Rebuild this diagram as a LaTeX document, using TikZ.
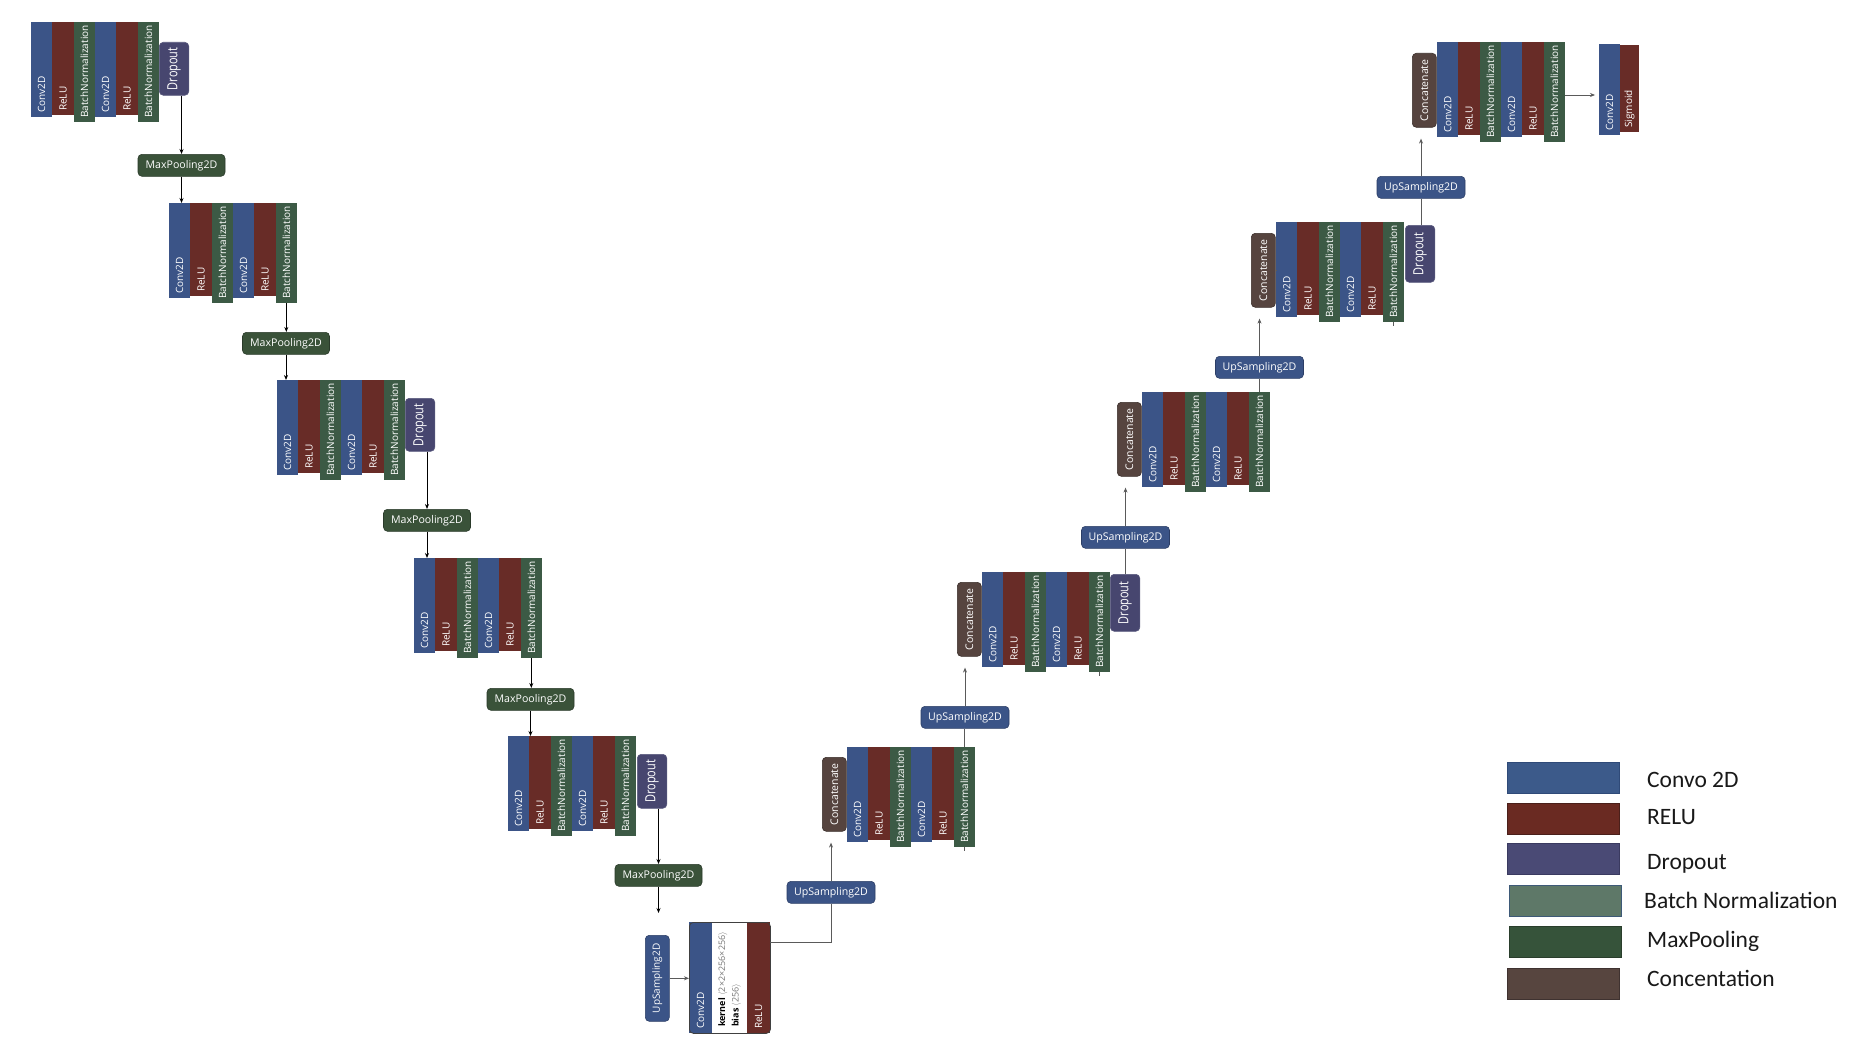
\documentclass[tikz,border=0pt]{standalone}
\usepackage{fontspec}
\usepackage{graphicx}
\newfontfamily\dfont{Open Sans}
\newfontfamily\lfont{Carlito}
\usetikzlibrary{arrows.meta}
\definecolor{convblue}{HTML}{3B5487}
\definecolor{relured}{HTML}{682C27}
\definecolor{bngreen}{HTML}{3C5A45}
\definecolor{dropc}{HTML}{47466F}
\definecolor{dropedge}{HTML}{5A5A7E}
\definecolor{catc}{HTML}{56443F}
\definecolor{catedge}{HTML}{3A2E2A}
\definecolor{mpgreen}{HTML}{3A5239}
\definecolor{mpedge}{HTML}{2A3A2A}
\definecolor{upblue}{HTML}{3B5487}
\definecolor{upedge}{HTML}{2C3E66}
\definecolor{linegray}{HTML}{5A5A5A}
\definecolor{kgray}{HTML}{777777}
\definecolor{frameedge}{HTML}{404040}
\definecolor{lgconv}{HTML}{3C5A8A}
\definecolor{lgconvE}{HTML}{2F4A78}
\definecolor{lgrelu}{HTML}{6A2A22}
\definecolor{lgreluE}{HTML}{4A1F1A}
\definecolor{lgdrop}{HTML}{4A4A75}
\definecolor{lgdropE}{HTML}{3A3A60}
\definecolor{lgbn}{HTML}{5E7868}
\definecolor{lgbnE}{HTML}{3E5A78}
\definecolor{lgmp}{HTML}{36533A}
\definecolor{lgmpE}{HTML}{2A3E2C}
\definecolor{lgcat}{HTML}{57453F}
\definecolor{lgcatE}{HTML}{3F3230}
\newcommand\droptxt{\scalebox{0.78}[1]{Dropout}}
\tikzset{
 col/.style={anchor=north west, inner sep=0pt, outer sep=0pt, minimum width=21.33pt},
 coltext/.style={rotate=90, anchor=west, inner xsep=4pt, inner ysep=0pt, text=white, font=\dfont\fontsize{10}{10}\selectfont},
 rottext/.style={rotate=90, anchor=center, inner sep=0pt, text=white, font=\dfont\fontsize{10.5}{11}\selectfont},
 convcol/.style={col, fill=convblue, minimum height=95pt, label={[coltext]south:#1}},
 convcol/.default=Conv2D,
 relucol/.style={col, fill=relured, minimum height=93pt, label={[coltext]south:#1}},
 relucol/.default=ReLU,
 bncol/.style={col, fill=bngreen, minimum height=100pt, label={[coltext]south:BatchNormalization}},
 dropbox/.style={anchor=north west, fill=dropc, draw=dropedge, line width=0.6pt, rounded corners=4pt, minimum width=29.5pt, minimum height=#1, inner sep=0pt, label={[droptext]center:\droptxt}},
 droptext/.style={rotate=90, anchor=center, inner sep=0pt, text=white, font=\dfont\fontsize{14}{14}\selectfont},
 catbox/.style={anchor=north west, fill=catc, draw=catedge, line width=0.6pt, rounded corners=4pt, minimum width=24pt, minimum height=74pt, inner sep=0pt, label={[rottext]center:Concatenate}},
 mpbox/.style={anchor=north, fill=mpgreen, draw=mpedge, line width=0.6pt, rounded corners=4pt, minimum width=87pt, minimum height=22pt, inner sep=0pt, text=white, font=\dfont\fontsize{10.6}{11}\selectfont},
 upbox/.style={mpbox, fill=upblue, draw=upedge, minimum width=88pt},
 arr/.style={-{Stealth[length=5pt,width=4pt]}, line width=0.9pt, black},
 gline/.style={line width=0.9pt, linegray},
 garr/.style={gline, -{Stealth[length=5pt,width=4pt]}},
 legrect/.style={anchor=north west, minimum width=112pt, minimum height=31pt, inner sep=0pt, line width=1pt},
 legtext/.style={anchor=base west, inner sep=0pt, font=\lfont\fontsize{23.5}{24}\selectfont, text=black!90},
}
\newcommand\ublk[3]{%
  \node[convcol] (#1a) at (#2,#3) {};
  \node[relucol] (#1b) at (#1a.north east) {};
  \node[bncol] (#1c) at (#1b.north east) {};
  \node[convcol] (#1d) at (#1c.north east) {};
  \node[relucol] (#1e) at (#1d.north east) {};
  \node[bncol] (#1f) at (#1e.north east) {};
}
\begin{document}
\begin{tikzpicture}[x=1pt,y=-1pt]
\fill[white] (0,0) rectangle (1862,1062);
\useasboundingbox (0,0) rectangle (1862,1062);

% ---------------- encoder ----------------
\ublk{e1}{31}{22}
\node[dropbox=53pt] (e1d) at (159,42) {};
\node[mpbox] (mp1) at (181.5,154) {MaxPooling2D};
\ublk{e2}{169}{203}
\node[mpbox] (mp2) at (286,332) {MaxPooling2D};
\ublk{e3}{277}{380}
\node[dropbox=53pt] (e3d) at (405,398) {};
\node[mpbox] (mp3) at (427,509) {MaxPooling2D};
\ublk{e4}{414}{558}
\node[mpbox] (mp4) at (530.5,688) {MaxPooling2D};
\ublk{e5}{508}{736}
\node[dropbox=54pt] (e5d) at (637,754) {};
\node[mpbox] (mp5) at (658.5,864) {MaxPooling2D};
\coordinate (mp5end) at (658.5,913);

% ---------------- bottleneck ----------------
\node[anchor=north west, fill=upblue, draw=upedge, line width=0.6pt, rounded corners=4pt, minimum width=24pt, minimum height=86pt, inner sep=0pt,
  label={[rottext, font=\dfont\fontsize{10}{10}\selectfont]center:UpSampling2D}] (ub) at (645,935) {};
\node[convcol, minimum width=23pt, minimum height=111pt] (bc1) at (689,922) {};
\node[col, fill=white, minimum width=35pt, minimum height=111pt] (bc2) at (bc1.north east) {};
\node[relucol, minimum width=23pt, minimum height=111pt] (bc3) at (bc2.north east) {};
\node[anchor=north west, draw=frameedge, line width=0.8pt, rounded corners=4pt, minimum width=81pt, minimum height=111pt, inner sep=0pt] (bn) at (689,922) {};
\node[rotate=90, anchor=west, align=left, inner sep=0pt, font=\dfont\fontsize{9}{13.5}\selectfont] (bnk) at (729.5,1027)
  {\textbf{kernel} {\color{kgray}$\langle$2×2×256×256$\rangle$}\\\textbf{bias} {\color{kgray}$\langle$256$\rangle$}};

% ---------------- decoder ----------------
\node[upbox] (u1) at (831,881) {UpSampling2D};
\node[catbox] (d1cat) at (822,757) {};
\ublk{d1}{847}{747}
\node[upbox] (u2) at (965,706) {UpSampling2D};
\node[catbox] (d2cat) at (957,582) {};
\ublk{d2}{982}{572}
\node[dropbox=57pt] (d2d) at (1110,574) {};
\node[upbox] (u3) at (1125.5,526) {UpSampling2D};
\node[catbox] (d3cat) at (1117,402) {};
\ublk{d3}{1142}{392}
\node[upbox] (u4) at (1259.5,356) {UpSampling2D};
\node[catbox] (d4cat) at (1251,233) {};
\ublk{d4}{1276}{222}
\node[dropbox=57pt] (d4d) at (1405,225) {};
\node[upbox] (u5) at (1421,176) {UpSampling2D};
\node[catbox] (d5cat) at (1412,53) {};
\ublk{d5}{1437}{42}
\node[convcol, minimum width=21pt, minimum height=91pt] (fo1) at (1599,44) {};
\node[relucol=Sigmoid, minimum width=19pt, minimum height=87pt] (fo2) at (1620,45) {};

% ---------------- encoder connectors ----------------
\draw[arr] (mp1.north |- e1d.south) -- (mp1.north);
\draw[arr] (mp1.south) -- (mp1.south |- e2a.north);
\draw[arr] (e2f.south) -- (e2f.south |- mp2.north);
\draw[arr] (mp2.south) -- (mp2.south |- e3a.north);
\draw[arr] (mp3.north |- e3d.south) -- (mp3.north);
\draw[arr] (mp3.south) -- (mp3.south |- e4a.north);
\draw[arr] (e4f.south) -- (e4f.south |- mp4.north);
\draw[arr] (mp4.south) -- (mp4.south |- e5a.north);
\draw[arr] (mp5.north |- e5d.south) -- (mp5.north);
\draw[arr] (mp5.south) -- (mp5end);

% ---------------- decoder connectors ----------------
\draw[garr] (ub.east) -- (ub.east -| bc1.west);
\draw[gline] ([yshift=-20pt]bc3.north east) -| (u1.south);
\draw[garr, shorten >=11pt] (u1.north) -- (u1.north |- d1cat.south);
\draw[gline] (d1cat.east) -- (d1cat.east -| d1a.west);
\draw[gline] (d1f.north) -- (d1f.north |- u2.south);
\draw[gline] (d1f.south) -- ++(0,4);
\draw[garr, shorten >=11pt] (u2.north) -- (u2.north |- d2cat.south);
\draw[gline] (d2cat.east) -- (d2cat.east -| d2a.west);
\draw[gline] (d2d.north -| u3.south) -- (u3.south);
\draw[gline] (d2f.south) -- ++(0,4);
\draw[garr, shorten >=11pt] (u3.north) -- (u3.north |- d3cat.south);
\draw[gline] (d3cat.east) -- (d3cat.east -| d3a.west);
\draw[gline] (d3f.north) -- (d3f.north |- u4.south);
\draw[garr, shorten >=11pt] (u4.north) -- (u4.north |- d4cat.south);
\draw[gline] (d4cat.east) -- (d4cat.east -| d4a.west);
\draw[gline] (d4d.north -| u5.south) -- (u5.south);
\draw[gline] (d4f.south) -- ++(0,4);
\draw[garr, shorten >=11pt] (u5.north) -- (u5.north |- d5cat.south);
\draw[gline] (d5cat.east) -- (d5cat.east -| d5a.west);
\draw[garr, shorten >=4pt] ([yshift=-53pt]d5f.north east) -- ([yshift=-53pt]d5f.north east -| fo1.west);

% ---------------- legend ----------------
\node[legrect, fill=lgconv, draw=lgconvE] (lg1) at (1507,762) {};
\node[legrect, fill=lgrelu, draw=lgreluE] (lg2) at (1507,803) {};
\node[legrect, fill=lgdrop, draw=lgdropE] (lg3) at (1507,843) {};
\node[legrect, fill=lgbn, draw=lgbnE] (lg4) at (1509,885) {};
\node[legrect, fill=lgmp, draw=lgmpE] (lg5) at (1509,926) {};
\node[legrect, fill=lgcat, draw=lgcatE] (lg6) at (1507,968) {};
\node[legtext] (lt1) at (1647,787) {Convo 2D};
\node[legtext] (lt2) at (1647,824) {RELU};
\node[legtext] (lt3) at (1647,869) {Dropout};
\node[legtext] (lt4) at (1644,908) {Batch Normalization};
\node[legtext] (lt5) at (1647,947) {MaxPooling};
\node[legtext] (lt6) at (1647,986) {Concentation};
\end{tikzpicture}
\end{document}
